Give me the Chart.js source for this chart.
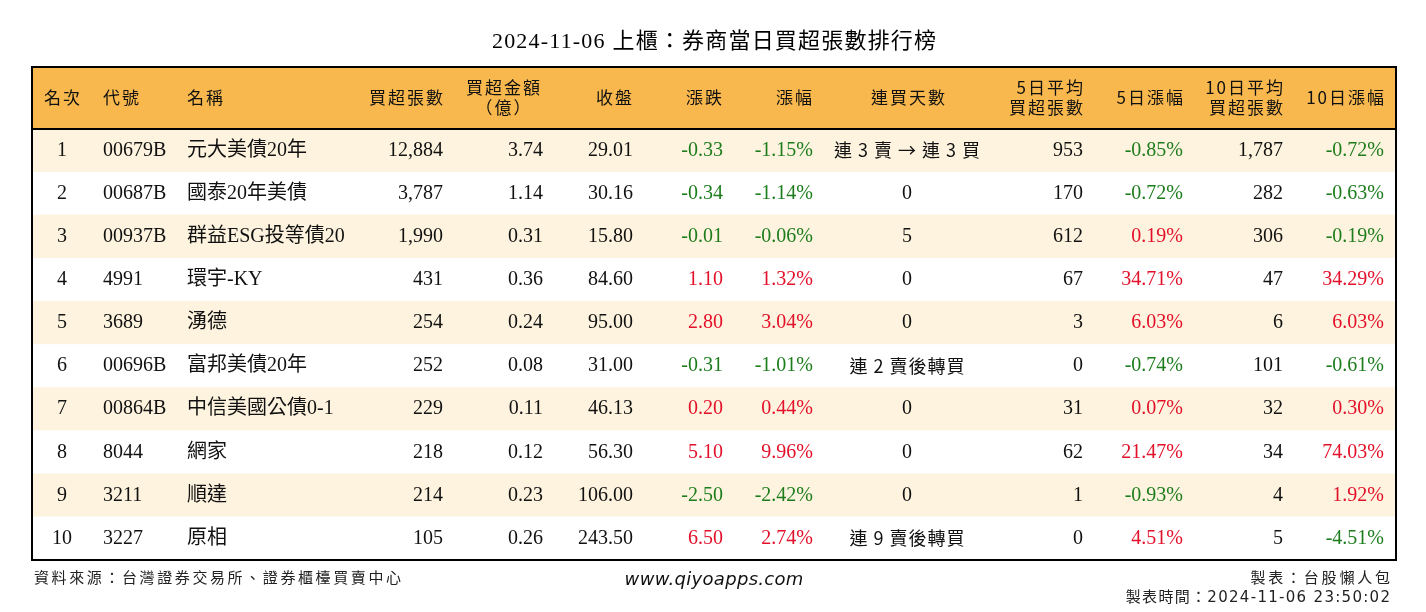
<!DOCTYPE html>
<html>
<head>
<meta charset="utf-8">
<style>
  html, body { margin: 0; padding: 0; background: #ffffff; }
  #wrap { width: 1426px; height: 612px; }
</style>
<script src="https://cdn.jsdelivr.net/npm/chart.js@4/dist/chart.umd.min.js"></script>
</head>
<body>
<div id="wrap"><canvas id="rankTable" width="1426" height="612"></canvas></div>
<script>
const titleText = '2024-11-06 上櫃：券商當日買超張數排行榜';
const ranks = [1, 2, 3, 4, 5, 6, 7, 8, 9, 10];
const codes = ['00679B', '00687B', '00937B', '4991', '3689', '00696B', '00864B', '8044', '3211', '3227'];
const names = ['元大美債20年', '國泰20年美債', '群益ESG投等債20', '環宇-KY', '湧德', '富邦美債20年', '中信美國公債0-1', '網家', '順達', '原相'];
const buyLots = [12884, 3787, 1990, 431, 254, 252, 229, 218, 214, 105];
const buyAmount = [3.74, 1.14, 0.31, 0.36, 0.24, 0.08, 0.11, 0.12, 0.23, 0.26];
const closePrice = [29.01, 30.16, 15.80, 84.60, 95.00, 31.00, 46.13, 56.30, 106.00, 243.50];
const change = [-0.33, -0.34, -0.01, 1.10, 2.80, -0.31, 0.20, 5.10, -2.50, 6.50];
const changePct = [-1.15, -1.14, -0.06, 1.32, 3.04, -1.01, 0.44, 9.96, -2.42, 2.74];
const streak = ['連 3 賣 → 連 3 買', '0', '5', '0', '0', '連 2 賣後轉買', '0', '0', '0', '連 9 賣後轉買'];
const avg5 = [953, 170, 612, 67, 3, 0, 31, 62, 1, 0];
const pct5 = [-0.85, -0.72, 0.19, 34.71, 6.03, -0.74, 0.07, 21.47, -0.93, 4.51];
const avg10 = [1787, 282, 306, 47, 6, 101, 32, 34, 4, 5];
const pct10 = [-0.72, -0.63, -0.19, 34.29, 6.03, -0.61, 0.30, 74.03, 1.92, -4.51];
const footerSource = '資料來源：台灣證券交易所、證券櫃檯買賣中心';
const footerSite = 'www.qiyoapps.com';
const footerMaker = '製表：台股懶人包';
const footerTime = '製表時間：2024-11-06 23:50:02';

(function() {
  if (typeof Chart === 'undefined') return;

  const SERIF = '"Liberation Serif", "Noto Sans CJK TC", serif';
  const CJK = '"Noto Sans CJK TC", "Liberation Serif", sans-serif';
  const RED = '#e3102a';
  const GREEN = '#1d7d1d';
  const TABLE_W = 1364;
  const HEADER_TOP = 67;

  function fmtInt(v) { return v.toLocaleString('en-US'); }
  function fmt2(v) { return v.toFixed(2); }
  function fmtPct(v) { return v.toFixed(2) + '%'; }
  function signColor(v) { return v > 0 ? RED : (v < 0 ? GREEN : '#111'); }

  // column anchors are in x-scale units (offset from table left edge)
  const columns = [
    { head: ['名次'], x: 30, align: 'center', hx: 30, halign: 'center', cell: function(i) { return String(ranks[i]); } },
    { head: ['代號'], x: 71, align: 'left', hx: 71, halign: 'left', cell: function(i) { return codes[i]; } },
    { head: ['名稱'], x: 155, align: 'left', hx: 155, halign: 'left', cell: function(i) { return names[i]; } },
    { head: ['買超張數'], x: 411, align: 'right', hx: 411, halign: 'right', cell: function(i) { return fmtInt(buyLots[i]); } },
    { head: ['買超金額', '（億）'], x: 511, align: 'right', hx: 471, halign: 'center', cell: function(i) { return fmt2(buyAmount[i]); } },
    { head: ['收盤'], x: 601, align: 'right', hx: 600, halign: 'right', cell: function(i) { return fmt2(closePrice[i]); } },
    { head: ['漲跌'], x: 691, align: 'right', hx: 690, halign: 'right', cell: function(i) { return fmt2(change[i]); }, color: function(i) { return signColor(change[i]); } },
    { head: ['漲幅'], x: 781, align: 'right', hx: 780, halign: 'right', cell: function(i) { return fmtPct(changePct[i]); }, color: function(i) { return signColor(changePct[i]); } },
    { head: ['連買天數'], x: 875, align: 'center', hx: 876, halign: 'center', cjk: true, cell: function(i) { return streak[i]; } },
    { head: ['5日平均', '買超張數'], x: 1051, align: 'right', hx: 1051, halign: 'right', cell: function(i) { return fmtInt(avg5[i]); } },
    { head: ['5日漲幅'], x: 1151, align: 'right', hx: 1151, halign: 'right', cell: function(i) { return fmtPct(pct5[i]); }, color: function(i) { return signColor(pct5[i]); } },
    { head: ['10日平均', '買超張數'], x: 1251, align: 'right', hx: 1251, halign: 'right', cell: function(i) { return fmtInt(avg10[i]); } },
    { head: ['10日漲幅'], x: 1352, align: 'right', hx: 1352, halign: 'right', cell: function(i) { return fmtPct(pct10[i]); }, color: function(i) { return signColor(pct10[i]); } }
  ];

  function drawText(ctx, text, x, y, align, font, color, spacing) {
    ctx.font = font;
    ctx.fillStyle = color;
    ctx.textAlign = align;
    ctx.textBaseline = 'middle';
    ctx.letterSpacing = (spacing || 0) + 'px';
    // right-aligned text gets trailing spacing, nudge it back
    let dx = 0;
    if (spacing && align === 'right') dx = spacing;
    if (spacing && align === 'center') dx = spacing / 2;
    ctx.fillText(text, x + dx, y);
    ctx.letterSpacing = '0px';
  }

  const tablePlugin = {
    id: 'tablePlugin',
    afterDraw: function(chart) {
      const ctx = chart.ctx;
      const xs = chart.scales.x;
      const ys = chart.scales.y;
      const area = chart.chartArea;
      const left = xs.getPixelForValue(0);
      const right = xs.getPixelForValue(TABLE_W);

      ctx.save();

      // header band
      ctx.fillStyle = '#f8b84d';
      ctx.fillRect(left, HEADER_TOP, right - left, area.top - HEADER_TOP);
      const headMid = (HEADER_TOP + area.top) / 2;
      columns.forEach(function(col) {
        const hx = xs.getPixelForValue(col.hx);
        if (col.head.length === 1) {
          drawText(ctx, col.head[0], hx, headMid, col.halign, '17px ' + CJK, '#111', 2);
        } else {
          drawText(ctx, col.head[0], hx, headMid - 10, col.halign, '17px ' + CJK, '#111', 2);
          drawText(ctx, col.head[1], hx, headMid + 10, col.halign, '17px ' + CJK, '#111', 2);
        }
      });

      // body cells
      ranks.forEach(function(r, i) {
        const cy = ys.getPixelForValue(i);
        columns.forEach(function(col) {
          const cx = xs.getPixelForValue(col.x);
          const color = col.color ? col.color(i) : '#111';
          const txt = col.cell(i);
          if (col.cjk && /[^0-9]/.test(txt)) {
            drawText(ctx, txt, cx, cy, col.align, '18px ' + CJK, color, 1);
          } else {
            drawText(ctx, txt, cx, cy, col.align, '20px ' + SERIF, color, 0);
          }
        });
      });

      // borders
      ctx.strokeStyle = '#000';
      ctx.lineWidth = 2;
      ctx.strokeRect(left, HEADER_TOP, right - left, area.bottom - HEADER_TOP);
      ctx.beginPath();
      ctx.moveTo(left, area.top);
      ctx.lineTo(right, area.top);
      ctx.stroke();

      // title
      drawText(ctx, titleText, (left + right) / 2, 42, 'center', '22px ' + SERIF, '#000', 1.2);

      // footer
      drawText(ctx, footerSource, left + 2, 577, 'left', '15px ' + CJK, '#222', 2.6);
      drawText(ctx, footerSite, (left + right) / 2, 580, 'center', 'italic 18px "DejaVu Sans", sans-serif', '#111', 0.3);
      drawText(ctx, footerMaker, right - 6, 577, 'right', '15px ' + CJK, '#222', 2.8);
      drawText(ctx, footerTime, right - 6, 598, 'right', '15px "DejaVu Sans", ' + CJK, '#222', 1.3);

      ctx.restore();
    }
  };

  new Chart(document.getElementById('rankTable'), {
    type: 'bar',
    data: {
      labels: ranks.map(String),
      datasets: [{
        data: ranks.map(function() { return [0, TABLE_W]; }),
        backgroundColor: ranks.map(function(r, i) { return i % 2 === 0 ? '#fdf3de' : '#ffffff'; }),
        borderWidth: 0,
        barPercentage: 1,
        categoryPercentage: 1
      }]
    },
    options: {
      indexAxis: 'y',
      responsive: false,
      animation: false,
      layout: {
        padding: { left: 32, right: 30, top: 129, bottom: 52 }
      },
      plugins: {
        legend: { display: false },
        tooltip: { enabled: false },
        title: { display: false }
      },
      scales: {
        x: { type: 'linear', min: 0, max: TABLE_W, display: false },
        y: { type: 'category', display: false }
      }
    },
    plugins: [tablePlugin]
  });
})();
</script>
</body>
</html>
